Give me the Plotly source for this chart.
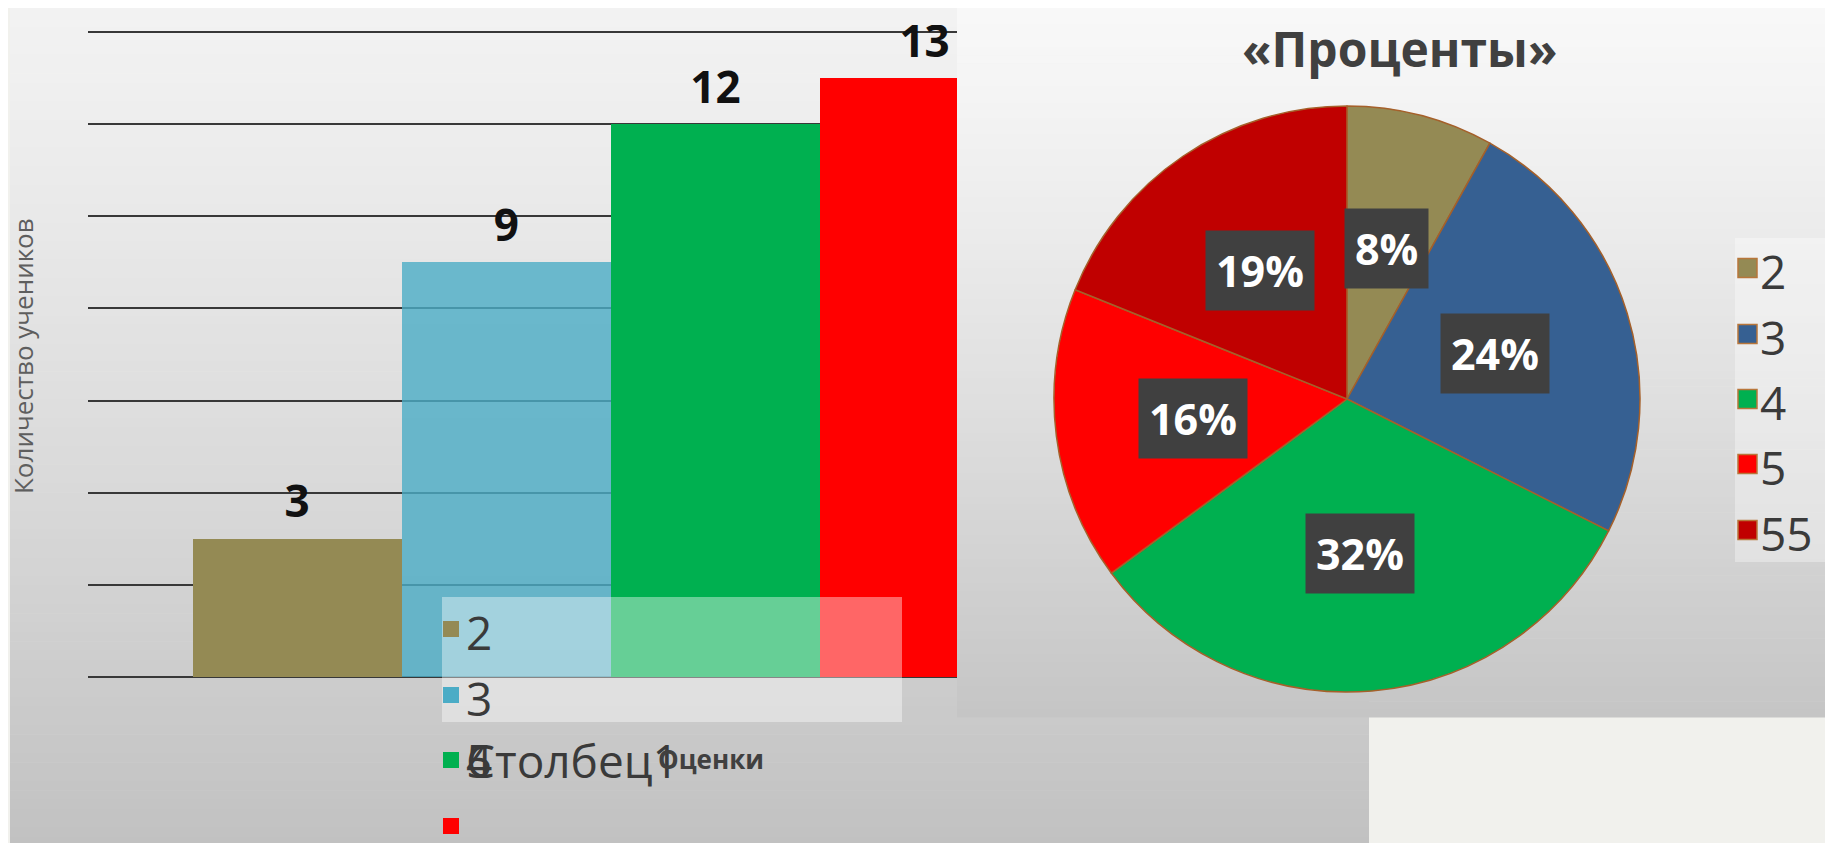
import math
import plotly.graph_objects as go

# page is 1833x843; the browser body has an 8px margin, so the figure is sized to fit after it
PAGE_W, PAGE_H = 1833, 843
OFF = 8
FW, FH = PAGE_W - OFF, PAGE_H - OFF

# ---------------- data ----------------
bar_names = ["2", "3", "4", "5"]
bar_values = [3, 9, 12, 13]
bar_colors = ["#948A54", "#4BACC6", "#00B050", "#FF0000"]
bar_opac = [1.0, 0.8, 1.0, 1.0]

pie_labels = ["2", "3", "4", "5", "55"]
pie_values = [3, 9, 12, 6, 7]
pie_colors = ["#948A54", "#366092", "#00B050", "#FF0000", "#C00000"]

bar_legend_labels = ["2", "3", "4", "5"]
bar_legend_extra = "Столбец1"

y_title = "Количество учеников"
x_title = "Оценки"
pie_title = "«Проценты»"


def px(x):
    return (x - OFF) / FW


def py(y):
    return 1 - (y - OFF) / FH


fig = go.Figure()

# ---------------- bar chart ----------------
for i, (n, v, c, o) in enumerate(zip(bar_names, bar_values, bar_colors, bar_opac)):
    fig.add_trace(go.Bar(
        x=[i], y=[v], name=n, width=1,
        marker=dict(color=c, line=dict(width=0)), opacity=o,
        showlegend=False, xaxis="x", yaxis="y",
    ))

# data labels above the bars (invisible marker pushes the text up; clipped to plot area)
fig.add_trace(go.Scatter(
    x=list(range(len(bar_values))), y=bar_values, mode="markers+text",
    text=[str(v) for v in bar_values], textposition="top center",
    marker=dict(size=15, color="rgba(0,0,0,0)"), cliponaxis=True,
    textfont=dict(family="Open Sans", size=44, color="#111111", weight="bold"),
    showlegend=False, xaxis="x", yaxis="y",
))

# ---------------- pie chart ----------------
cx, cy, R = 1347, 399, 293
fig.add_trace(go.Pie(
    labels=pie_labels, values=pie_values, sort=False, direction="clockwise",
    rotation=0, textinfo="none", showlegend=False,
    marker=dict(colors=pie_colors, line=dict(color="#A5602A", width=1.5)),
    domain=dict(x=[px(cx - R), px(cx + R)], y=[py(cy + R), py(cy - R)]),
))

shapes = []
annotations = []


def gradient(x0, x1, y0, y1, top, bot, n=90, gamma=1.2):
    out = []
    step = (y1 - y0) / n
    for k in range(n):
        t = ((k + 0.5) / n) ** gamma
        g = round(top + (bot - top) * t)
        col = f"rgb({g},{g},{g})"
        out.append(dict(type="rect", xref="paper", yref="paper", layer="below",
                        x0=px(x0), x1=px(x1), y0=py(y0 + k * step), y1=py(y0 + (k + 1) * step + 0.6),
                        fillcolor=col, line=dict(width=0)))
    return out


# left panel background
shapes += gradient(10, 1369, 8, 846, 242, 193)
# pie panel background
shapes += gradient(957, 1840, 8, 717, 248, 197)

# bar legend box (semi-transparent)
shapes.append(dict(type="rect", xref="paper", yref="paper", layer="above",
                   x0=px(442), x1=px(902), y0=py(722), y1=py(597),
                   fillcolor="rgba(255,255,255,0.40)", line=dict(width=0)))
leg_rows = [629, 695, 760, 826]
for c, yc in zip(bar_colors, leg_rows):
    shapes.append(dict(type="rect", xref="paper", yref="paper", layer="above",
                       x0=px(443), x1=px(459), y0=py(yc + 8), y1=py(yc - 8),
                       fillcolor=c, line=dict(width=0)))
leg_font = dict(family="Open Sans", size=46, color="#3A3A3A")
annotations.append(dict(text=bar_legend_labels[0], x=px(464), y=py(632), xref="paper", yref="paper",
                        xanchor="left", yanchor="middle", showarrow=False, font=leg_font))
annotations.append(dict(text=bar_legend_labels[1], x=px(464), y=py(698), xref="paper", yref="paper",
                        xanchor="left", yanchor="middle", showarrow=False, font=leg_font))
for t in [bar_legend_labels[2], bar_legend_labels[3], bar_legend_extra]:
    annotations.append(dict(text=t, x=px(464), y=py(760), xref="paper", yref="paper",
                            xanchor="left", yanchor="middle", showarrow=False, font=leg_font))
annotations.append(dict(text=x_title, x=px(711), y=py(759), xref="paper", yref="paper",
                        xanchor="center", yanchor="middle", showarrow=False,
                        font=dict(family="Open Sans", size=26, color="#404040", weight="bold")))
annotations.append(dict(text=y_title, x=px(23), y=py(356), xref="paper", yref="paper",
                        xanchor="center", yanchor="middle", showarrow=False, textangle=-90,
                        font=dict(family="Open Sans", size=26, color="#5E5E5E")))

# pie title
annotations.append(dict(text=pie_title, x=px(1399), y=py(48), xref="paper", yref="paper",
                        xanchor="center", yanchor="middle", showarrow=False,
                        font=dict(family="Open Sans", size=48, color="#404040", weight="bold")))

# pie percentage labels (computed from values)
total = sum(pie_values)
cum = 0
for v in pie_values:
    mid = (cum + v / 2) / total
    cum += v
    th = 2 * math.pi * mid
    r = 0.53 * R
    lx = cx + r * math.sin(th)
    ly = cy - r * math.cos(th)
    annotations.append(dict(text=f"{round(100 * v / total)}%", x=px(lx), y=py(ly),
                            xref="paper", yref="paper", xanchor="center", yanchor="middle",
                            showarrow=False, bgcolor="#404040", borderpad=10,
                            font=dict(family="Open Sans", size=43, color="white", weight="bold")))

# pie legend
shapes.append(dict(type="rect", xref="paper", yref="paper", layer="above",
                   x0=px(1735), x1=px(1840), y0=py(562), y1=py(238),
                   fillcolor="rgba(255,255,255,0.35)", line=dict(width=0)))
pie_rows = [268, 334, 399, 464, 530]
for lab, c, yc in zip(pie_labels, pie_colors, pie_rows):
    shapes.append(dict(type="rect", xref="paper", yref="paper", layer="above",
                       x0=px(1738), x1=px(1757), y0=py(yc + 9.5), y1=py(yc - 9.5),
                       fillcolor=c, line=dict(color="#B8763A", width=1.5)))
    annotations.append(dict(text=lab, x=px(1758), y=py(yc + 3), xref="paper", yref="paper",
                            xanchor="left", yanchor="middle", showarrow=False,
                            font=dict(family="Open Sans", size=46, color="#3A3A3A")))

fig.update_layout(
    width=FW, height=FH, margin=dict(l=0, r=0, t=0, b=0),
    paper_bgcolor="#F1F1ED", plot_bgcolor="rgba(0,0,0,0)",
    barmode="overlay", bargap=0,
    xaxis=dict(domain=[px(88), px(957)], range=[-1.0, 3.155], showgrid=False,
               zeroline=False, showticklabels=False, ticks="", showline=False),
    yaxis=dict(domain=[py(683.9), py(25.1)], range=[-0.15, 14.15], dtick=2, tick0=0,
               showgrid=True, gridcolor="#383838", gridwidth=2, zeroline=False,
               showticklabels=False, ticks="", showline=False),
    shapes=shapes, annotations=annotations,
    hovermode=False,
)

fig.write_html("out.html")
